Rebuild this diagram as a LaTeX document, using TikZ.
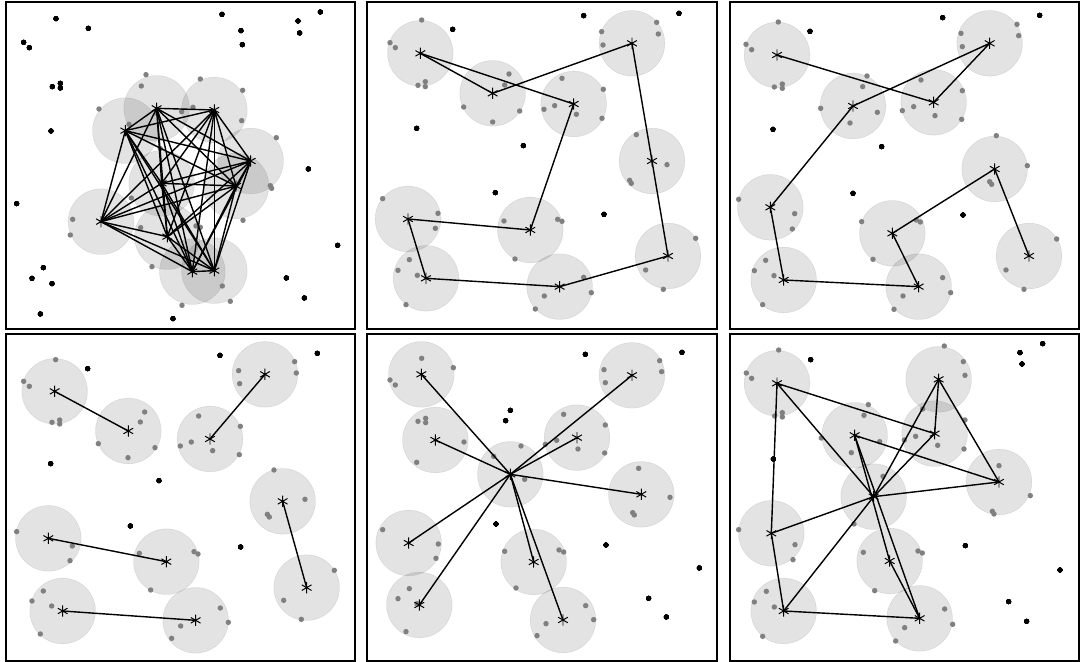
\documentclass[tikz,border=0pt]{standalone}
\usepackage{tikz}
\usetikzlibrary{calc}
\newcommand{\centermark}[1]{\draw[markline] (#1) +(90:1.4mm) -- +(270:1.4mm) +(30:1.4mm) -- +(210:1.4mm) +(150:1.4mm) -- +(330:1.4mm);}
\begin{document}
\begin{tikzpicture}[
  x=0.25mm,y=-0.25mm,
  zoomed/.style={x=0.083333mm,y=-0.083333mm},
  panel/.style={draw=black,line width=1.6pt},
  disk/.style={fill=black,fill opacity=0.11,draw=black,draw opacity=0.09,line width=0.4pt},
  member/.style={fill=gray},
  stray/.style={fill=black},
  linkline/.style={line width=1pt,line cap=round},
  markline/.style={line width=0.7pt}
]
\useasboundingbox (0,0) rectangle (1080,662);

% complete graph
\begin{scope}[shift={(0,0)},zoomed]
\foreach \n/\x/\y in {1/470/325,2/643/330,3/376/392,4/752/483,5/708/558,6/485/550,7/303/665,8/502/710,9/577/815,10/643/812}
  \coordinate (a\n) at (\x,\y);
\foreach \n in {1,...,10} \path[disk] (a\n) circle (8.2mm);
\foreach \x/\y in {438/224,424/258,601/237,728/271,297/327,545/335,579/322,470/340,645/345,387/373,725/362,829/413,481/446,811/557,815/565,394/594,218/658,211/705,422/683,588/678,601/682,729/661,456/800,667/858,546/916,691/904}
  \fill[member] (\x,\y) circle (0.68mm);
\foreach \i [evaluate=\i as \k using int(\i+1)] in {1,...,9}
  \foreach \j in {\k,...,10} \draw[linkline] (a\i) -- (a\j);
\foreach \n in {1,...,10} \centermark{a\n}
\foreach \x/\y in {168/56,265/85,71/127,88/143,157/260,181/250,181/264,153/393,50/611,130/803,96/835,156/851,121/942,519/956,666/43,723/92,727/134,894/63,899/99,961/36,925/507,1013/736,859/834,913/894}
  \fill[stray] (\x,\y) circle (0.62mm);
\draw[panel] (18,6) rectangle (1066,988);
\end{scope}

% tour
\begin{scope}[shift={(362,0)},zoomed]
\foreach \n/\x/\y in {1/175/160,2/392/280,3/635/312,4/810/130,5/870/483,6/138/657,7/505/690,8/192/835,9/593/860,10/918/768}
  \coordinate (b\n) at (\x,\y);
\foreach \n in {1,...,10} \path[disk] (b\n) circle (8.2mm);
\foreach \x/\y in {179/60,84/128,100/143,190/245,168/256,190/260,441/222,428/255,305/321,473/333,392/366,600/235,724/268,546/328,578/317,643/343,720/355,719/95,884/67,889/102,723/135,823/404,915/494,803/541,808/550,62/596,228/640,220/685,426/663,587/658,600/664,459/777,142/779,108/811,166/826,132/914,665/832,688/878,547/888,520/927,1001/715,851/810,904/868}
  \fill[member] (\x,\y) circle (0.68mm);
\foreach \i/\j in {1/2,1/3,2/4,3/7,4/5,5/10,10/9,9/8,8/6,6/7}
  \draw[linkline] (b\i) -- (b\j);
\foreach \n in {1,...,10} \centermark{b\n}
\foreach \x/\y in {272/88,665/47,951/40,164/385,484/437,400/578,726/643}
  \fill[stray] (\x,\y) circle (0.62mm);
\draw[panel] (14,6) rectangle (1066,988);
\end{scope}

% path
\begin{scope}[shift={(723,0)},zoomed]
\foreach \n/\x/\y in {1/162/165,2/390/318,3/632/307,4/800/130,5/815/507,6/142/622,7/508/700,8/182/840,9/587/860,10/918/768}
  \coordinate (c\n) at (\x,\y);
\foreach \n in {1,...,10} \path[disk] (c\n) circle (8.2mm);
\foreach \x/\y in {166/66,69/133,86/149,154/261,178/252,178/265,432/228,419/260,293/325,463/337,381/369,594/240,718/272,538/332,572/320,636/347,716/358,714/100,882/73,887/107,718/140,820/407,913/497,800/545,806/553,47/598,215/641,208/687,416/665,580/660,592/666,450/778,128/781,94/812,153/827,119/914,659/833,683/878,540/888,513/928,1001/717,849/810,903/868}
  \fill[member] (\x,\y) circle (0.68mm);
\foreach \i/\j in {1/3,3/4,4/2,2/6,6/8,8/9,9/7,7/5,5/10}
  \draw[linkline] (c\i) -- (c\j);
\foreach \n in {1,...,10} \centermark{c\n}
\foreach \x/\y in {261/94,659/53,950/46,150/388,476/440,390/580,720/645}
  \fill[stray] (\x,\y) circle (0.62mm);
\draw[panel] (20,6) rectangle (1068,988);
\end{scope}

% matching
\begin{scope}[shift={(0,331)},zoomed]
\foreach \n/\x/\y in {1/164/181,2/385/300,3/630/324,4/795/130,5/848/511,6/145/622,7/499/692,8/188/840,9/587/868,10/920/770}
  \coordinate (d\n) at (\x,\y);
\foreach \n in {1,...,10} \path[disk] (d\n) circle (8.2mm);
\foreach \x/\y in {167/86,71/151,88/166,156/274,179/267,179/279,434/243,421/273,295/338,465/350,384/380,596/255,721/286,541/345,574/333,638/359,718/371,716/119,884/92,889/126,719/158,822/417,915/505,802/550,808/558,50/602,217/645,210/689,418/667,582/662,594/669,452/777,130/780,96/810,155/825,121/909,661/831,685/874,542/885,515/922,1003/718,851/808,904/865}
  \fill[member] (\x,\y) circle (0.68mm);
\foreach \i/\j in {1/2,3/4,5/10,6/7,8/9}
  \draw[linkline] (d\i) -- (d\j);
\foreach \n in {1,...,10} \centermark{d\n}
\foreach \x/\y in {263/113,660/73,952/67,152/398,477/449,391/585,722/648}
  \fill[stray] (\x,\y) circle (0.62mm);
\draw[panel] (18,8) rectangle (1066,990);
\end{scope}

% star
\begin{scope}[shift={(362,331)},zoomed]
\foreach \n/\x/\y in {1/178/130,2/220/327,3/445/430,4/645/320,5/810/133,6/838/490,7/140/636,8/172/822,9/515/693,10/603/867}
  \coordinate (e\n) at (\x,\y);
\foreach \n in {1,...,10} \path[disk] (e\n) circle (8.2mm);
\foreach \x/\y in {179/82,84/147,100/162,274/110,168/271,191/262,191/275,164/394,306/333,477/345,395/376,488/445,605/250,730/282,550/340,584/328,648/354,728/366,726/116,893/89,899/122,730/155,830/412,924/499,812/545,817/552,62/596,229/639,222/682,428/661,591/657,605/663,462/771,142/773,108/803,165/818,132/902,671/824,695/866,552/878,525/914}
  \fill[member] (\x,\y) circle (0.68mm);
\foreach \j in {1,2,4,5,6,7,8,9,10}
  \draw[linkline] (e3) -- (e\j);
\foreach \n in {1,...,10} \centermark{e\n}
\foreach \x/\y in {670/70,960/64,445/238,431/269,402/579,732/642,1012/711,860/802,913/858}
  \fill[stray] (\x,\y) circle (0.62mm);
\draw[panel] (14,8) rectangle (1066,990);
\end{scope}

% triangles
\begin{scope}[shift={(723,331)},zoomed]
\foreach \n/\x/\y in {1/162/157,2/395/313,3/635/308,4/647/145,5/828/453,6/452/497,7/145/607,8/500/690,9/182/840,10/590/862}
  \coordinate (f\n) at (\x,\y);
\foreach \n in {1,...,10} \path[disk] (f\n) circle (8.2mm);
\foreach \x/\y in {167/57,70/126,86/142,155/255,178/245,178/258,436/221,423/253,295/321,470/332,385/365,599/234,726/267,544/327,578/316,644/343,723/354,664/45,721/92,726/133,828/404,922/494,808/541,813/549,47/596,216/641,210/686,421/664,585/660,598/666,455/779,130/781,94/813,154/828,119/916,665/834,689/880,545/890,518/930,480/436,393/579}
  \fill[member] (\x,\y) circle (0.68mm);
\foreach \i/\j in {1/3,1/6,3/6,4/5,4/6,5/6,7/9,7/6,9/6,2/8,2/10,8/10,1/7,3/4,2/5,9/10}
  \draw[linkline] (f\i) -- (f\j);
\foreach \n in {1,...,10} \centermark{f\n}
\foreach \x/\y in {263/86,891/65,897/99,959/38,151/384,727/644,1011/717,857/812,911/871}
  \fill[stray] (\x,\y) circle (0.62mm);
\draw[panel] (20,8) rectangle (1068,990);
\end{scope}
\end{tikzpicture}
\end{document}
